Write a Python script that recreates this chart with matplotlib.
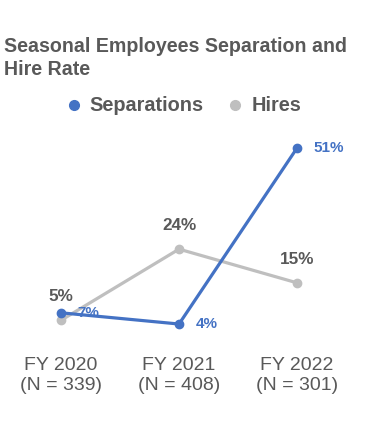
import matplotlib.pyplot as plt
from matplotlib.lines import Line2D

plt.rcParams['font.family'] = ['Liberation Sans', 'DejaVu Sans']

years = ["FY 2020\n(N = 339)", "FY 2021\n(N = 408)", "FY 2022\n(N = 301)"]
separations = [7, 4, 51]
hires = [5, 24, 15]

blue = '#4472C4'
grey = '#BFBFBF'
text_c = '#595959'

fig = plt.figure(figsize=(3.67, 4.38), dpi=100)
ax = fig.add_axes([0, 0.226, 1, 0.454])
x = list(range(len(years)))

ax.plot(x, hires, color=grey, lw=2.3, marker='o', ms=6, zorder=2)
ax.plot(x, separations, color=blue, lw=2.3, marker='o', ms=6, zorder=3)

for xi, v in zip(x, hires):
    ax.annotate(f"{v}%", (xi, v), xytext=(0, 17), textcoords='offset points',
                ha='center', va='center', color=text_c, fontsize=12.3, fontweight='bold')
for xi, v in zip(x, separations):
    ax.annotate(f"{v}%", (xi, v), xytext=(12, 0), textcoords='offset points',
                ha='left', va='center', color=blue, fontsize=11, fontweight='bold', zorder=4)

ax.set_xlim(-0.517, 2.593)
ax.set_ylim(0, 53.1)
ax.set_xticks(x)
ax.set_xticklabels(years, fontsize=14, color=text_c, linespacing=1.25)
ax.tick_params(length=0, pad=13)
ax.set_yticks([])
for s in ax.spines.values():
    s.set_visible(False)

fig.text(0.01, 1 - 37 / 438, "Seasonal Employees Separation and\nHire Rate",
         ha='left', va='top', fontsize=14.1, fontweight='bold', color=text_c,
         linespacing=1.28)

handles = [Line2D([], [], ls='none', marker='o', ms=7, color=blue),
           Line2D([], [], ls='none', marker='o', ms=7, color=grey)]
leg = fig.legend(handles, ["Separations", "Hires"], loc='center', ncol=2,
                 bbox_to_anchor=(0.5, 1 - 106 / 438), frameon=False,
                 handlelength=0.8, handletextpad=0.4, columnspacing=1.2,
                 prop={'size': 14.3, 'weight': 'bold'})
for t in leg.get_texts():
    t.set_color(text_c)

fig.savefig('out.png', dpi=100)
